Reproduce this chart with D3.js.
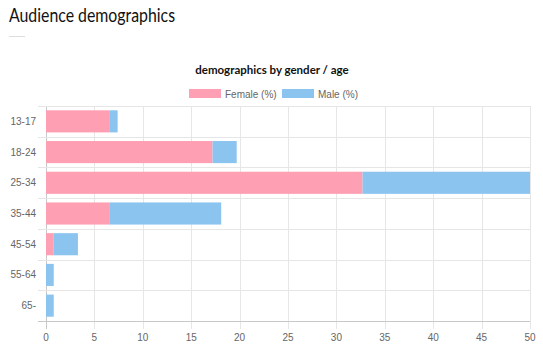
<!DOCTYPE html>
<html>
<head>
<meta charset="utf-8">
<script src="https://cdn.jsdelivr.net/npm/d3@7"></script>
<style>
  body { margin: 0; background: #fff; }
  svg { display: block; }
</style>
</head>
<body>
<div id="container"></div>
<script>
/* DATA */
const ageGroups = ["13-17", "18-24", "25-34", "35-44", "45-54", "55-64", "65-"];
const femalePct = [6.6, 17.2, 32.7, 6.6, 0.8, 0, 0];
const malePct = [0.8, 2.5, 20.0, 11.5, 2.5, 0.8, 0.8];
const seriesNames = ["Female (%)", "Male (%)"];
const xTicks = [0, 5, 10, 15, 20, 25, 30, 35, 40, 45, 50];

/* CONSTANTS */
const width = 543,
  height = 346,
  margin = { top: 106, bottom: 25, left: 46, right: 13 },
  colors = ["#ff9fb3", "#8cc4f0"],
  tickFont = "'Liberation Sans', Arial, sans-serif";

const svg = d3.select("#container")
  .append("svg")
  .attr("width", width)
  .attr("height", height);

// page heading
svg.append("text")
  .attr("x", 9)
  .attr("y", 22)
  .attr("font-family", "Lato, sans-serif")
  .attr("font-size", 18.5)
  .attr("textLength", 166)
  .attr("lengthAdjust", "spacingAndGlyphs")
  .attr("fill", "#111")
  .text("Audience demographics");

svg.append("line")
  .attr("x1", 9).attr("x2", 25)
  .attr("y1", 36.5).attr("y2", 36.5)
  .attr("stroke", "#ddd");

// chart title
svg.append("text")
  .attr("x", 272)
  .attr("y", 74)
  .attr("text-anchor", "middle")
  .attr("font-family", "Lato, sans-serif")
  .attr("font-weight", "bold")
  .attr("font-size", 11.5)
  .attr("fill", "#111")
  .text("demographics by gender / age");

// legend
const legendX = [189, 282];
const legend = svg.selectAll(".legend")
  .data(seriesNames)
  .join("g")
  .attr("class", "legend")
  .attr("transform", (d, i) => `translate(${legendX[i]}, 89)`);

legend.append("rect")
  .attr("width", 32)
  .attr("height", 9)
  .attr("fill", (d, i) => colors[i]);

legend.append("text")
  .attr("x", 36)
  .attr("y", 8.5)
  .attr("font-family", tickFont)
  .attr("font-size", 10)
  .attr("fill", "#666")
  .text(d => d);

/* SCALES */
const xScale = d3.scaleLinear()
  .domain([0, 50])
  .range([margin.left, width - margin.right]);

const yScale = d3.scaleBand()
  .domain(ageGroups)
  .range([margin.top, height - margin.bottom])
  .paddingInner(0.28)
  .paddingOuter(0.14);

const bandStep = yScale.step();
const plotTop = margin.top, plotBottom = height - margin.bottom;

// vertical grid lines + x ticks
svg.append("g")
  .selectAll("line")
  .data(xTicks)
  .join("line")
  .attr("x1", d => Math.round(xScale(d)) + 0.5)
  .attr("x2", d => Math.round(xScale(d)) + 0.5)
  .attr("y1", plotTop)
  .attr("y2", plotBottom + 8)
  .attr("stroke", d => d === 0 ? "#c8c8c8" : "#e6e6e6");

// horizontal grid lines at category boundaries
const boundaries = d3.range(ageGroups.length + 1).map(i => plotTop + i * bandStep);
svg.append("g")
  .selectAll("line")
  .data(boundaries)
  .join("line")
  .attr("x1", margin.left - 8)
  .attr("x2", xScale(50))
  .attr("y1", d => Math.round(d) + 0.5)
  .attr("y2", d => Math.round(d) + 0.5)
  .attr("stroke", (d, i) => i === ageGroups.length ? "#c8c8c8" : "#e6e6e6");

/* BARS */
const stacked = d3.stack().keys([0, 1])(ageGroups.map((g, i) => [femalePct[i], malePct[i]]));

svg.append("defs").append("clipPath")
  .attr("id", "plot-clip")
  .append("rect")
  .attr("x", margin.left)
  .attr("y", plotTop)
  .attr("width", xScale(50) - margin.left)
  .attr("height", plotBottom - plotTop);

svg.append("g")
  .attr("clip-path", "url(#plot-clip)")
  .selectAll("g")
  .data(stacked)
  .join("g")
  .attr("fill", (d, i) => colors[i])
  .selectAll("rect")
  .data(d => d)
  .join("rect")
  .attr("x", d => xScale(d[0]))
  .attr("y", (d, i) => yScale(ageGroups[i]))
  .attr("width", d => xScale(d[1]) - xScale(d[0]))
  .attr("height", yScale.bandwidth());

/* AXIS LABELS */
svg.append("g")
  .selectAll("text")
  .data(ageGroups)
  .join("text")
  .attr("x", 36)
  .attr("y", d => yScale(d) + yScale.bandwidth() / 2 + 3.5)
  .attr("text-anchor", "end")
  .attr("font-family", tickFont)
  .attr("font-size", 10)
  .attr("fill", "#666")
  .text(d => d);

svg.append("g")
  .selectAll("text")
  .data(xTicks)
  .join("text")
  .attr("x", d => xScale(d))
  .attr("y", 341)
  .attr("text-anchor", "middle")
  .attr("font-family", tickFont)
  .attr("font-size", 10)
  .attr("fill", "#666")
  .text(d => d);
</script>
</body>
</html>
